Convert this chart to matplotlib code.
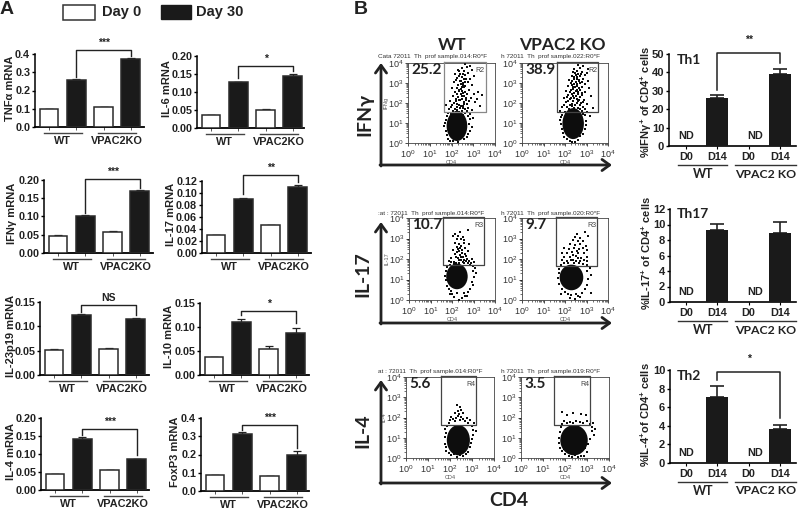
import matplotlib
matplotlib.use('Agg')
import matplotlib.pyplot as plt
from matplotlib.patches import Ellipse, Rectangle
import numpy as np

plt.rcParams['font.family'] = ['Liberation Sans', 'DejaVu Sans']
plt.rcParams['mathtext.fontset'] = 'custom'
plt.rcParams['mathtext.rm'] = 'Liberation Sans'
plt.rcParams['mathtext.bf'] = 'Liberation Sans:bold'
plt.rcParams['mathtext.default'] = 'regular'

W, H = 800, 509
DARK = '#1a1a1a'
TXT = '#222222'
CAL = ['Lato', 'DejaVu Sans']

# Panel A: mean qPCR values, errors, brackets (top, left end, right end)
groups_a = ['WT', 'VPAC2KO']

tnf_vals = [0.098, 0.258, 0.108, 0.372]
tnf_errs = [0.003, 0.007, 0.004, 0.004]
tnf_brk = [0.424, 0.275, 0.390]

il6_vals = [0.036, 0.127, 0.050, 0.145]
il6_errs = [0.001, 0.002, 0.003, 0.006]
il6_brk = [0.172, 0.140, 0.158]

ifn_vals = [0.047, 0.100, 0.057, 0.169]
ifn_errs = [0.002, 0.004, 0.003, 0.003]
ifn_brk = [0.203, 0.109, 0.179]

il17_vals = [0.030, 0.090, 0.046, 0.110]
il17_errs = [0.0005, 0.001, 0.0005, 0.004]
il17_brk = [0.130, 0.098, 0.118]

il23_vals = [0.052, 0.124, 0.053, 0.115]
il23_errs = [0.001, 0.002, 0.003, 0.003]
il23_brk = [0.143, 0.130, 0.124]

il10_vals = [0.038, 0.110, 0.055, 0.088]
il10_errs = [0.0005, 0.007, 0.006, 0.009]
il10_brk = [0.134, 0.124, 0.108]

il4_vals = [0.045, 0.141, 0.055, 0.085]
il4_errs = [0.0005, 0.005, 0.001, 0.002]
il4_brk = [0.170, 0.153, 0.098]

foxp3_vals = [0.085, 0.312, 0.080, 0.200]
foxp3_errs = [0.001, 0.010, 0.002, 0.018]
foxp3_brk = [0.361, 0.335, 0.234]

# Panel B: bar charts
d_labels = ['D0', 'D14', 'D0', 'D14']
groups_b = ['WT', 'VPAC2 KO']
th1_vals = [0, 26, 0, 39]
th1_errs = [0, 1.7, 0, 2.8]
th1_brk = [50.4, 30.7, 45]
th17_vals = [0, 9.3, 0, 8.9]
th17_errs = [0, 0.8, 0, 1.4]
th2_vals = [0, 7.1, 0, 3.65]
th2_errs = [0, 1.15, 0, 0.4]
th2_brk = [9.75, 8.9, 4.8]

wt_ifn_pts = [
    (2.62, 3.93), (2.83, 3.86), (2.47, 3.74), (2.71, 3.79), (2.33, 3.58), (2.56, 3.61), (2.92, 3.64), (2.18, 3.43),
    (2.41, 3.47), (2.64, 3.39), (2.77, 3.52), (3.03, 3.33), (2.27, 3.24), (2.49, 3.29), (2.66, 3.18), (2.86, 3.22),
    (2.12, 3.03), (2.37, 3.09), (2.53, 3.01), (2.74, 3.07), (2.31, 2.88), (2.44, 2.94), (2.63, 2.86), (2.96, 2.91),
    (2.02, 2.73), (2.24, 2.76), (2.43, 2.69), (2.58, 2.78), (2.82, 2.67), (3.21, 2.56), (2.14, 2.53), (2.36, 2.58),
    (2.52, 2.49), (2.71, 2.46), (3.02, 2.44), (3.38, 2.41), (2.09, 2.33), (2.28, 2.28), (2.46, 2.36), (2.66, 2.24),
    (2.91, 2.27), (3.19, 2.19), (1.91, 2.12), (2.21, 2.08), (2.39, 2.16), (2.59, 2.04), (2.79, 2.11), (3.06, 2.03),
    (1.76, 1.92), (2.04, 1.89), (2.26, 1.96), (2.51, 1.87), (2.69, 1.93), (3.31, 1.84), (1.88, 1.72), (2.16, 1.68),
    (2.38, 1.77), (2.64, 1.71), (2.94, 1.66), (1.84, 1.52), (2.11, 1.47), (2.34, 1.56), (2.61, 1.49), (2.86, 1.43),
    (2.29, 3.66), (2.52, 3.44), (2.35, 3.36), (2.57, 3.22), (2.42, 3.12), (2.21, 3.13), (2.61, 3.05), (2.46, 2.82),
    (2.54, 2.91), (2.34, 2.67), (2.49, 2.62), (2.62, 2.57), (2.27, 2.44), (2.42, 2.47), (2.57, 2.37), (2.19, 2.22),
    (2.33, 2.13), (2.49, 2.22), (2.68, 2.14), (2.13, 1.99), (2.36, 1.91), (2.58, 1.94), (2.44, 1.83), (2.23, 1.79),
    (1.99, 1.78), (2.53, 1.74), (2.76, 1.77), (2.07, 1.61), (2.27, 1.63), (2.47, 1.61), (2.71, 1.58), (2.19, 1.54),
    (2.43, 1.49), (1.96, 1.44), (1.79, 1.33), (2.01, 1.37), (2.18, 1.43), (2.52, 1.42), (2.76, 1.34), (3.01, 1.26),
    (1.74, 1.16), (2.83, 1.18), (1.71, 1.02), (2.81, 0.96), (1.67, 0.83), (2.94, 0.81), (1.76, 0.58), (2.77, 0.44),
    (2.84, 0.62), (1.81, 0.38), (1.86, 0.19), (2.05, 0.08), (2.31, 0.05), (2.56, 0.18), (2.69, 0.29), (1.93, 0.11),
]
ko_ifn_pts = [
    (2.61, 3.88), (2.86, 3.84), (2.44, 3.71), (2.69, 3.74), (3.06, 3.69), (2.36, 3.57), (2.54, 3.61), (2.79, 3.53),
    (3.01, 3.48), (2.31, 3.37), (2.52, 3.41), (2.71, 3.33), (2.91, 3.38), (2.19, 3.16), (2.41, 3.21), (2.63, 3.13),
    (2.82, 3.18), (3.07, 3.09), (2.29, 3.02), (2.49, 3.04), (2.72, 2.98), (2.92, 2.94), (2.14, 2.83), (2.36, 2.79),
    (2.56, 2.86), (2.77, 2.81), (3.11, 2.76), (2.06, 2.62), (2.28, 2.64), (2.51, 2.58), (2.69, 2.63), (2.93, 2.54),
    (2.16, 2.42), (2.39, 2.37), (2.59, 2.43), (2.81, 2.38), (3.21, 2.34), (1.96, 2.23), (2.21, 2.18), (2.44, 2.24),
    (2.66, 2.17), (2.89, 2.14), (2.04, 2.03), (2.31, 1.97), (2.54, 2.02), (2.76, 1.98), (3.02, 1.93), (1.84, 1.82),
    (2.11, 1.78), (2.34, 1.84), (2.62, 1.76), (2.86, 1.81), (3.29, 1.74), (1.79, 1.62), (2.02, 1.57), (2.24, 1.63),
    (2.49, 1.58), (2.78, 1.61), (3.04, 1.54), (1.86, 1.42), (2.91, 1.38), (3.14, 1.34), (1.78, 1.17), (2.96, 1.12),
    (2.47, 3.52), (2.62, 3.47), (2.43, 3.31), (2.58, 3.28), (2.76, 3.44), (2.34, 3.12), (2.54, 3.18), (2.67, 3.08),
    (2.41, 2.96), (2.58, 2.94), (2.81, 3.03), (2.31, 2.89), (2.46, 2.82), (2.65, 2.74), (2.38, 2.69), (2.57, 2.66),
    (2.21, 2.53), (2.43, 2.51), (2.61, 2.54), (2.77, 2.48), (2.32, 2.43), (2.49, 2.33), (2.71, 2.29), (2.09, 2.32),
    (2.29, 2.26), (2.56, 2.21), (2.37, 2.11), (2.14, 2.09), (2.61, 2.09), (2.82, 2.07), (2.23, 1.92), (2.46, 1.91),
    (2.68, 1.89), (1.97, 1.88), (2.18, 1.71), (2.43, 1.73), (2.72, 1.69), (2.93, 1.68), (2.31, 1.52), (2.58, 1.49),
    (2.04, 1.46), (2.82, 1.47), (1.87, 0.71), (2.91, 0.68), (1.96, 0.31), (2.21, 0.12), (2.47, 0.07), (2.71, 0.33),
    (1.82, 0.94), (2.98, 0.89), (1.89, 0.49), (2.86, 0.47), (2.08, 0.18), (2.59, 0.16), (2.34, 0.04), (1.83, 1.29),
]
wt_il17_pts = [
    (2.16, 3.24), (2.37, 3.31), (2.74, 3.42), (2.06, 3.11), (2.29, 3.13), (2.49, 3.08), (2.21, 2.96), (2.41, 2.98),
    (2.58, 2.91), (2.12, 2.77), (2.34, 2.73), (2.56, 2.79), (2.81, 2.71), (2.22, 2.57), (2.39, 2.53), (2.61, 2.56),
    (2.04, 2.42), (2.31, 2.39), (2.48, 2.44), (2.76, 2.37), (2.14, 2.22), (2.36, 2.18), (2.59, 2.23), (1.94, 2.06),
    (2.26, 2.03), (2.52, 2.08), (2.71, 2.02), (2.91, 1.99), (1.84, 1.91), (2.09, 1.87), (2.41, 1.93), (2.64, 1.88),
    (3.01, 1.84), (2.44, 2.64), (2.28, 2.48), (2.47, 2.31), (2.24, 2.33), (2.67, 2.14), (2.43, 2.11), (2.18, 2.11),
    (2.34, 1.97), (2.57, 1.96), (2.78, 1.92), (1.97, 1.84), (2.19, 1.81), (2.49, 1.84), (2.74, 1.79), (2.87, 1.81),
    (1.89, 1.73), (2.07, 1.76), (2.31, 1.79), (2.58, 1.81), (2.83, 1.72), (2.97, 1.66), (3.09, 1.56), (1.78, 1.63),
    (1.72, 1.42), (3.13, 1.31), (2.96, 1.42), (1.69, 1.19), (3.03, 1.12), (1.71, 0.96), (2.91, 0.86), (2.96, 0.71),
    (1.79, 0.66), (1.86, 0.52), (1.96, 0.44), (2.21, 0.34), (2.11, 0.16), (2.46, 0.09), (2.61, 0.21), (2.76, 0.41),
    (2.34, 0.02), (2.02, 0.28), (2.54, 0.36), (2.84, 0.56), (1.92, 0.31), (2.71, 0.18),
]
ko_il17_pts = [
    (2.56, 3.22), (2.91, 3.31), (2.48, 3.06), (2.71, 3.03), (3.06, 3.11), (2.36, 2.92), (2.61, 2.88), (2.84, 2.86),
    (2.21, 2.71), (2.46, 2.67), (2.69, 2.73), (2.96, 2.64), (1.94, 2.52), (2.19, 2.47), (2.41, 2.53), (2.66, 2.49),
    (2.86, 2.52), (3.04, 2.44), (1.86, 2.31), (2.11, 2.27), (2.34, 2.33), (2.61, 2.28), (2.89, 2.31), (1.96, 2.12),
    (2.21, 2.08), (2.49, 2.13), (2.76, 2.07), (3.01, 2.11), (1.84, 1.94), (2.09, 1.91), (2.38, 1.96), (2.71, 1.92),
    (3.02, 1.88), (2.55, 2.38), (2.37, 2.18), (2.62, 2.04), (2.29, 1.93), (2.52, 1.91), (2.89, 1.93), (1.97, 1.81),
    (2.16, 1.79), (2.43, 1.81), (2.63, 1.79), (2.83, 1.78), (3.04, 1.71), (1.81, 1.72), (3.14, 1.56), (1.73, 1.53),
    (1.71, 1.31), (3.21, 1.22), (3.03, 1.41), (1.69, 1.06), (3.09, 1.03), (1.74, 0.76), (3.01, 0.71), (1.81, 0.27),
    (2.01, 0.41), (2.61, 0.21), (2.79, 0.34), (3.21, 0.36), (2.21, 0.08), (2.46, 0.05), (1.88, 0.53), (2.93, 0.53),
    (2.13, 0.28), (2.51, 0.31), (2.71, 0.14), (2.29, 0.24),
]
wt_il4_pts = [
    (2.31, 2.61), (2.46, 2.54), (2.36, 2.34), (2.51, 2.37), (2.21, 2.21), (2.41, 2.18), (2.61, 2.23), (2.04, 2.02),
    (2.29, 1.98), (2.52, 2.03), (2.76, 1.99), (2.01, 1.86), (2.24, 1.84), (2.44, 1.87), (2.69, 1.83), (2.91, 1.86),
    (3.09, 1.71), (3.16, 1.34), (3.06, 1.14), (1.86, 1.56), (1.81, 1.21), (1.77, 0.71), (2.96, 0.74), (1.84, 0.36),
    (2.06, 0.14), (2.31, 0.04), (2.61, 0.09), (2.81, 0.31), (2.36, 2.08), (2.14, 1.93), (2.59, 1.91), (2.83, 1.74),
    (1.94, 1.72), (2.98, 1.56), (1.79, 1.41), (3.04, 1.36), (1.76, 1.02), (3.01, 0.96), (1.81, 0.54), (2.89, 0.53),
    (1.96, 0.26), (2.46, 0.17), (2.74, 0.22), (2.16, 0.21),
]
ko_il4_pts = [
    (1.86, 2.26), (2.11, 2.14), (2.36, 2.24), (2.71, 2.16), (2.96, 2.13), (1.94, 1.84), (2.24, 1.79), (2.51, 1.82),
    (2.69, 1.77), (3.01, 1.81), (3.26, 1.71), (3.36, 1.44), (3.31, 1.14), (1.81, 1.51), (1.74, 1.01), (3.06, 0.71),
    (1.79, 0.51), (2.01, 0.21), (2.31, 0.06), (2.61, 0.04), (2.86, 0.11), (3.01, 0.31), (2.09, 1.71), (2.38, 1.73),
    (2.83, 1.72), (3.14, 1.66), (3.24, 1.53), (1.88, 1.66), (1.76, 1.26), (3.21, 1.31), (1.74, 0.76), (3.13, 0.94),
    (1.86, 0.33), (2.93, 0.51), (2.16, 0.12), (2.46, 0.14), (2.73, 0.09), (1.94, 0.42),
]

# dense core of each plot: centre x, centre y, width, height (decades)
flow_core = {
    'wt_ifn': (2.25, 0.85, 0.95, 1.5),
    'ko_ifn': (2.38, 0.97, 1.0, 1.55),
    'wt_il17': (2.23, 1.15, 1.0, 1.25),
    'ko_il17': (2.3, 1.1, 1.1, 1.25),
    'wt_il4': (2.38, 0.88, 1.05, 1.5),
    'ko_il4': (2.41, 0.88, 1.25, 1.5),
}

fig = plt.figure(figsize=(W / 100, H / 100), dpi=100)
fig.patch.set_facecolor('white')

# overlay in pixel coordinates for labels and big arrows
over = fig.add_axes([0, 0, 1, 1], zorder=5)
over.set_xlim(0, W)
over.set_ylim(H, 0)
over.axis('off')
over.patch.set_alpha(0)


def px_axes(left, right, top, bottom):
    return fig.add_axes([left / W, 1 - bottom / H, (right - left) / W, (bottom - top) / H])


def draw_bracket(ax, x0, x1, brk, star, star_pad=1.5, lw=1.0):
    top, lo_l, lo_r = brk
    ax.plot([x0, x0, x1, x1], [lo_l, top, top, lo_r], color='#222222', lw=lw, clip_on=False, zorder=6)
    ax.annotate(star, ((x0 + x1) / 2, top), xytext=(0, star_pad), textcoords='offset points',
                ha='center', va='bottom', fontsize=7.5, fontweight='bold', color=TXT, annotation_clip=False)


def mrna_panel(rect, vals, errs, ymax, ticks, fmt, ylab, lab_xy, brk, star):
    left, right, top, bottom = rect
    ax = px_axes(left, right, top, bottom)
    xs = np.arange(4)
    spacing = 27.3
    ax.set_xlim((left - (left + 14)) / spacing, (right - (left + 14)) / spacing)
    ax.set_ylim(0, ymax)
    colors = ['white', DARK, 'white', DARK]
    ax.bar(xs, vals, width=0.69, color=colors, edgecolor='#2a2a2a', linewidth=1.1, zorder=3)
    for x, v, e in zip(xs, vals, errs):
        ax.errorbar(x, v, yerr=[[0], [e]], color='#222222', capsize=3, elinewidth=0.9, capthick=0.9, zorder=2)
    for s in ['top', 'right']:
        ax.spines[s].set_visible(False)
    ax.spines['left'].set_linewidth(1.1)
    ax.spines['bottom'].set_linewidth(1.3)
    ax.set_xticks(xs)
    ax.set_xticklabels([])
    ax.set_yticks(ticks)
    ax.set_yticklabels([fmt % t for t in ticks], fontsize=7.8, fontweight='bold', color=TXT)
    ax.tick_params(axis='x', length=2, width=0.7, color='#555555')
    ax.tick_params(axis='y', length=2.5, width=1, pad=1)
    h = bottom - top
    tr = ax.get_xaxis_transform()
    for start, label in zip([0, 2], groups_a):
        ax.plot([start - 0.2, start + 1.2], [-6 / h, -6 / h], color='#444444', lw=1.0, transform=tr, clip_on=False)
        ax.text(start + 0.5, -14 / h, label, transform=tr, ha='center', va='center',
                fontsize=7.8, fontweight='bold', color=TXT)
    draw_bracket(ax, 1, 3, brk, star)
    over.text(lab_xy[0], lab_xy[1], ylab, rotation=90, ha='center', va='center', fontsize=8,
              fontweight='bold', color=TXT)
    return ax


mrna_panel((35, 144, 54, 127), tnf_vals, tnf_errs, 0.4, [0, 0.1, 0.2, 0.3, 0.4], '%.1f',
           'TNFα mRNA', (10, 88), tnf_brk, '***')
mrna_panel((197, 304, 56, 128), il6_vals, il6_errs, 0.2, [0, 0.05, 0.1, 0.15, 0.2], '%.2f',
           'IL-6 mRNA', (167, 89), il6_brk, '*')
mrna_panel((44, 153, 180, 253), ifn_vals, ifn_errs, 0.2, [0, 0.05, 0.1, 0.15, 0.2], '%.2f',
           'IFNγ mRNA', (12, 213), ifn_brk, '***')
mrna_panel((202, 311, 181, 253), il17_vals, il17_errs, 0.12, [0, 0.02, 0.04, 0.06, 0.08, 0.1, 0.12], '%.2f',
           'IL-17 mRNA', (171, 214), il17_brk, '**')
mrna_panel((40, 149, 302, 375), il23_vals, il23_errs, 0.15, [0, 0.05, 0.1, 0.15], '%.2f',
           'IL-23p19 mRNA', (11, 336), il23_brk, 'NS')
mrna_panel((200, 309, 303, 375), il10_vals, il10_errs, 0.15, [0, 0.05, 0.1, 0.15], '%.2f',
           'IL-10 mRNA', (169, 336), il10_brk, '*')
mrna_panel((41, 149, 418, 490), il4_vals, il4_errs, 0.2, [0, 0.05, 0.1, 0.15, 0.2], '%.2f',
           'IL-4 mRNA', (11, 452), il4_brk, '***')
mrna_panel((201, 309, 418, 491), foxp3_vals, foxp3_errs, 0.4, [0, 0.1, 0.2, 0.3, 0.4], '%.1f',
           'FoxP3 mRNA', (175, 452), foxp3_brk, '***')


def th_panel(rect, vals, errs, ymax, ticks, ylab, lab_xy, title, title_y, brk=None, star=None):
    left, right, top, bottom = rect
    ax = px_axes(left, right, top, bottom)
    xs = np.arange(4)
    spacing = 31.3
    ax.set_xlim((left - 686) / spacing, (right - 686) / spacing)
    ax.set_ylim(0, ymax)
    ax.bar(xs, vals, width=0.7, color=DARK, zorder=3)
    for x, v, e in zip(xs, vals, errs):
        if v > 0:
            ax.errorbar(x, v, yerr=[[0], [e]], color='#222222', capsize=5, elinewidth=1.2, capthick=1.2, zorder=2)
    for s in ['top', 'right']:
        ax.spines[s].set_visible(False)
    ax.spines['left'].set_linewidth(1.1)
    ax.spines['bottom'].set_linewidth(1.2)
    ax.set_xticks(xs)
    ax.set_xticklabels(d_labels, fontsize=7.8, fontweight='bold', color=TXT)
    ax.set_yticks(ticks)
    ax.set_yticklabels([str(t) for t in ticks], fontsize=8, fontweight='bold', color=TXT)
    ax.tick_params(axis='x', length=2.5, width=0.8, pad=2)
    ax.tick_params(axis='y', length=2.5, width=1, pad=1)
    for x in [0, 2.2]:
        ax.annotate('ND', (x, 0), xytext=(0, 7.2), textcoords='offset points', ha='center', va='center',
                    fontsize=7.8, fontweight='bold', color=TXT)
    over.plot([678, 727], [bottom + 19, bottom + 19], color='#333333', lw=1.0)
    over.plot([735, 796], [bottom + 19, bottom + 19], color='#333333', lw=1.0)
    over.text(703, bottom + 28, groups_b[0], ha='center', va='center', fontsize=9, fontweight='bold',
              family=CAL, color=TXT)
    over.text(766, bottom + 28, groups_b[1], ha='center', va='center', fontsize=8.8, fontweight='bold',
              family=CAL, color=TXT)
    over.text(lab_xy[0], lab_xy[1], ylab, rotation=90, ha='center', va='center', fontsize=8,
              fontweight='bold', color=TXT)
    over.text(677, title_y, title, ha='left', va='center', fontsize=10, fontweight='bold', family=CAL, color=TXT)
    if brk is not None:
        draw_bracket(ax, 1, 3, brk, star, star_pad=6, lw=1.1)
    return ax


th_panel((669, 796, 54, 146), th1_vals, th1_errs, 50, [0, 10, 20, 30, 40, 50],
         '%IFNγ$^{+}$ of CD4$^{+}$ cells', (646, 102), 'Th1', 60, th1_brk, '**')
th_panel((670, 796, 209, 302), th17_vals, th17_errs, 12, [0, 2, 4, 6, 8, 10, 12],
         '%IL-17$^{+}$ of CD4$^{+}$ cells', (646, 253), 'Th17', 214)
th_panel((670, 796, 370, 463), th2_vals, th2_errs, 10, [0, 2, 4, 6, 8, 10],
         '%IL-4$^{+}$of CD4$^{+}$ cells', (645, 415), 'Th2', 376, th2_brk, '*')


def flow_panel(rect, pts, core, gate, gate_name, gate_color, pct, ylab, xlab='CD4'):
    left, right, top, bottom = rect
    ax = px_axes(left, right, top, bottom)
    ax.set_xlim(0, 4)
    ax.set_ylim(0, 4)
    cx, cy, w, h = core
    ax.add_patch(Ellipse((cx, cy), w, h, color='#0d0d0d', zorder=2, lw=0))
    xs = [p[0] for p in pts]
    ys = [p[1] for p in pts]
    ax.scatter(xs, ys, s=1.7, marker='s', color='#0d0d0d', linewidths=0, zorder=3)
    gx0, gx1, gy0 = gate
    ax.plot([gx0, gx0, gx1, gx1, gx0], [4.05, gy0, gy0, 4.05, 4.05], color=gate_color, lw=0.9,
            clip_on=False, zorder=4)
    ax.text(gx1 - 0.03, 3.65, gate_name, ha='right', va='center', fontsize=5, color='#444444')
    ax.text(0.14, 3.65, pct, ha='left', va='center', fontsize=11, fontweight='bold', family=CAL, color=TXT)
    ticks = [0, 1, 2, 3, 4]
    minor = [n + np.log10(k) for n in range(4) for k in range(2, 10)]
    ax.set_xticks(ticks)
    ax.set_yticks(ticks)
    ax.set_xticks(minor, minor=True)
    ax.set_yticks(minor, minor=True)
    labels = ['$10^{%d}$' % t for t in ticks]
    ax.set_xticklabels(labels, fontsize=6.5, color='#333333')
    ax.set_yticklabels(labels, fontsize=6.5, color='#333333')
    ax.tick_params(which='major', length=2.5, width=0.5, pad=1)
    ax.tick_params(which='minor', length=1.5, width=0.4)
    for s in ax.spines.values():
        s.set_linewidth(0.6)
        s.set_color('#444444')
    ax.set_xlabel(xlab, fontsize=4, color='#555555', labelpad=0.5)
    ax.set_ylabel(ylab, fontsize=4, color='#555555', labelpad=-1)


flow_panel((408, 495, 63, 143), wt_ifn_pts, flow_core['wt_ifn'], (1.65, 3.57, 1.55), 'R2', '#888888', '25.2', 'IFNg')
flow_panel((522, 608, 63, 143), ko_ifn_pts, flow_core['ko_ifn'], (1.65, 3.55, 1.55), 'R2', '#444444', '38.9', '')
flow_panel((409, 495, 218, 300), wt_il17_pts, flow_core['wt_il17'], (1.6, 3.5, 1.7), 'R3', '#444444', '10.7', 'IL-17')
flow_panel((522, 608, 218, 300), ko_il17_pts, flow_core['ko_il17'], (1.6, 3.5, 1.68), 'R3', '#444444', '9.7', '')
flow_panel((406, 494, 377, 458), wt_il4_pts, flow_core['wt_il4'], (1.57, 3.2, 1.63), 'R4', '#444444', '5.6', 'IL-4')
flow_panel((521, 609, 377, 458), ko_il4_pts, flow_core['ko_il4'], (1.5, 3.15, 1.63), 'R4', '#444444', '3.5', '')

# legend and panel letters
over.add_patch(Rectangle((63, 5), 32, 15, facecolor='white', edgecolor='#333333', lw=1.1))
over.add_patch(Rectangle((161, 5), 30, 14, facecolor=DARK, edgecolor=DARK, lw=1))
over.text(102, 12, 'Day 0', ha='left', va='center', fontsize=10.5, fontweight='bold', color=TXT)
over.text(196, 12, 'Day 30', ha='left', va='center', fontsize=10.5, fontweight='bold', color=TXT)
over.text(0, 9, 'A', ha='left', va='center', fontsize=14, fontweight='bold', color=TXT)
over.text(354, 9, 'B', ha='left', va='center', fontsize=14, fontweight='bold', color=TXT)

# column titles and row labels of the flow plots
over.text(452, 45, 'WT', ha='center', va='center', fontsize=12.5, fontweight='bold', family=CAL, color=TXT)
over.text(562, 45, 'VPAC2 KO', ha='center', va='center', fontsize=12.5, fontweight='bold', family=CAL, color=TXT)
over.text(365, 114, 'IFNγ', rotation=90, ha='center', va='center', fontsize=14, fontweight='bold', family=CAL, color=TXT)
over.text(363, 274, 'IL-17', rotation=90, ha='center', va='center', fontsize=14, fontweight='bold', family=CAL, color=TXT)
over.text(363, 431, 'IL-4', rotation=90, ha='center', va='center', fontsize=14, fontweight='bold', family=CAL, color=TXT)
over.text(509, 500, 'CD4', ha='center', va='center', fontsize=14, fontweight='bold', family=CAL, color=TXT)

# tiny sample headers above the flow plots
for y, left_txt, right_txt in [
    (56, 'Cata 72011  Th  prof sample.014:R0*F', 'h 72011  Th  prof sample.022:R0*F'),
    (213, ':at : 72011  Th  prof sample.014:R0*F', 'h 72011  Th  prof sample.020:R0*F'),
    (371, 'at : 72011  Th  prof sample.014:R0*F', 'h 72011  Th  prof sample.019:R0*F'),
]:
    over.text(378, y, left_txt, ha='left', va='center', fontsize=4.6, color='#333333')
    over.text(501, y, right_txt, ha='left', va='center', fontsize=4.6, color='#333333')

# big axis arrows of each flow row
for top_y, bottom_y in [(63, 165), (222, 323), (380, 483)]:
    over.annotate('', xy=(381, top_y), xytext=(381, bottom_y + 1),
                  arrowprops=dict(arrowstyle='->,head_length=0.55,head_width=0.4', color='#222222', lw=2, shrinkA=0, shrinkB=0))
    over.annotate('', xy=(612, bottom_y), xytext=(380, bottom_y),
                  arrowprops=dict(arrowstyle='->,head_length=0.55,head_width=0.4', color='#222222', lw=2, shrinkA=0, shrinkB=0))

fig.savefig('out.png', dpi=100)
